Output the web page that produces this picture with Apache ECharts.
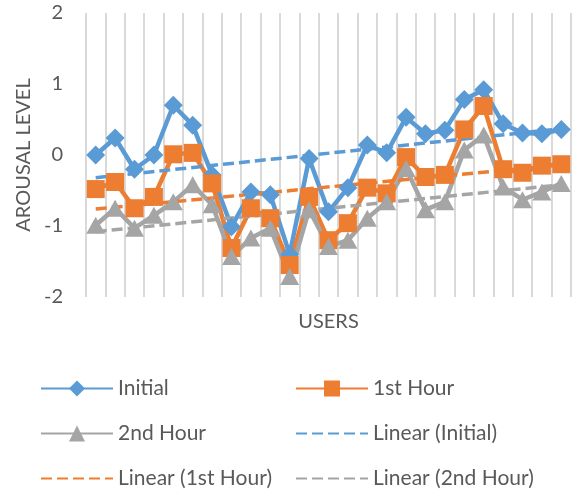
<!DOCTYPE html>
<html>
<head>
<meta charset="utf-8">
<script src="https://cdn.jsdelivr.net/npm/echarts@6/dist/echarts.min.js"></script>
<style>
	html, body { margin: 0; padding: 0; background: #fff; }
	#chart { width: 580px; height: 495px; }
</style>
</head>
<body>
<div id="chart"></div>
<script>
// 25 users, no labels shown on the axis
var users = [];
for (var i = 1; i <= 25; i++) users.push(String(i));

var yTicks = [-2, -1, 0, 1, 2];

var initial = [0, 0.24, -0.2, 0, 0.7, 0.42, -0.28, -1.01, -0.52, -0.56, -1.4, -0.05, -0.8,
	-0.46, 0.14, 0.03, 0.53, 0.3, 0.35, 0.78, 0.92, 0.44, 0.31, 0.3, 0.36];
var firstHour = [-0.48, -0.38, -0.75, -0.59, 0.01, 0.03, -0.4, -1.31, -0.75, -0.89, -1.55, -0.59, -1.2,
	-0.96, -0.46, -0.54, -0.03, -0.31, -0.28, 0.36, 0.69, -0.2, -0.25, -0.15, -0.13];
var secondHour = [-0.99, -0.75, -1.03, -0.85, -0.66, -0.42, -0.7, -1.43, -1.17, -1.03, -1.71, -0.77, -1.29,
	-1.2, -0.89, -0.66, -0.19, -0.77, -0.66, 0.07, 0.28, -0.45, -0.63, -0.52, -0.4];

// trendline end points (first user, last user)
var trendInitial = [-0.32, 0.37];
var trendFirst = [-0.76, -0.14];
var trendSecond = [-1.08, -0.42];

var names = ['Initial', '1st Hour', '2nd Hour', 'Linear (Initial)', 'Linear (1st Hour)', 'Linear (2nd Hour)'];
var colors = ['#5B9BD5', '#ED7D31', '#A5A5A5'];
var FONT = 'Lato';

function trendData(ends) {
	return [[users[0], ends[0]], [users[users.length - 1], ends[1]]];
}

function dataSeries(name, data, color, symbol, size) {
	return {
		name: name,
		type: 'line',
		data: data,
		symbol: symbol,
		symbolSize: size,
		showSymbol: true,
		showAllSymbol: true,
		lineStyle: { color: color, width: 4.5 },
		itemStyle: { color: color },
		emphasis: { disabled: true },
		animation: false
	};
}

function trendSeries(name, ends, color) {
	return {
		name: name,
		type: 'line',
		data: trendData(ends),
		symbol: 'none',
		lineStyle: { color: color, width: 3.5, type: [11, 5] },
		itemStyle: { color: color },
		emphasis: { disabled: true },
		animation: false
	};
}

// one legend box per entry: 2 columns x 3 rows
function legendItem(idx, left, top, dashed) {
	var item = { name: names[idx] };
	if (dashed) item.itemStyle = { opacity: 0 };
	return {
		left: left,
		top: top,
		itemWidth: 72,
		itemHeight: 20,
		data: [item],
		textStyle: { fontFamily: FONT, fontSize: 21, color: '#595959' },
		selectedMode: false
	};
}

var chart = echarts.init(document.getElementById('chart'));
chart.setOption({
	backgroundColor: '#fff',
	textStyle: { fontFamily: FONT },
	grid: { left: 86, right: 9, top: 13, bottom: 198 },
	legend: [
		legendItem(0, 35, 373, false),
		legendItem(1, 290, 373, false),
		legendItem(2, 35, 418, false),
		legendItem(3, 290, 418, true),
		legendItem(4, 35, 463, true),
		legendItem(5, 290, 463, true)
	],
	xAxis: {
		type: 'category',
		data: users,
		boundaryGap: true,
		name: 'USERS',
		nameLocation: 'middle',
		nameGap: 15,
		nameTextStyle: { fontFamily: FONT, fontSize: 20, color: '#595959' },
		axisLine: { show: false },
		axisTick: { show: false },
		axisLabel: { show: false },
		splitLine: { show: true, lineStyle: { color: '#d9d9d9', width: 2 } }
	},
	yAxis: {
		type: 'value',
		min: yTicks[0],
		max: yTicks[yTicks.length - 1],
		interval: 1,
		name: 'AROUSAL LEVEL',
		nameLocation: 'middle',
		nameGap: 52,
		nameTextStyle: { fontFamily: FONT, fontSize: 20, color: '#595959' },
		axisLine: { show: false },
		axisTick: { show: false },
		axisLabel: { fontFamily: FONT, fontSize: 20, color: '#595959', margin: 23 },
		splitLine: { show: false }
	},
	series: [
		dataSeries(names[0], initial, colors[0], 'diamond', 19),
		dataSeries(names[1], firstHour, colors[1], 'rect', 18),
		dataSeries(names[2], secondHour, colors[2], 'triangle', [19, 17]),
		trendSeries(names[3], trendInitial, colors[0]),
		trendSeries(names[4], trendFirst, colors[1]),
		trendSeries(names[5], trendSecond, colors[2])
	]
});
</script>
</body>
</html>
